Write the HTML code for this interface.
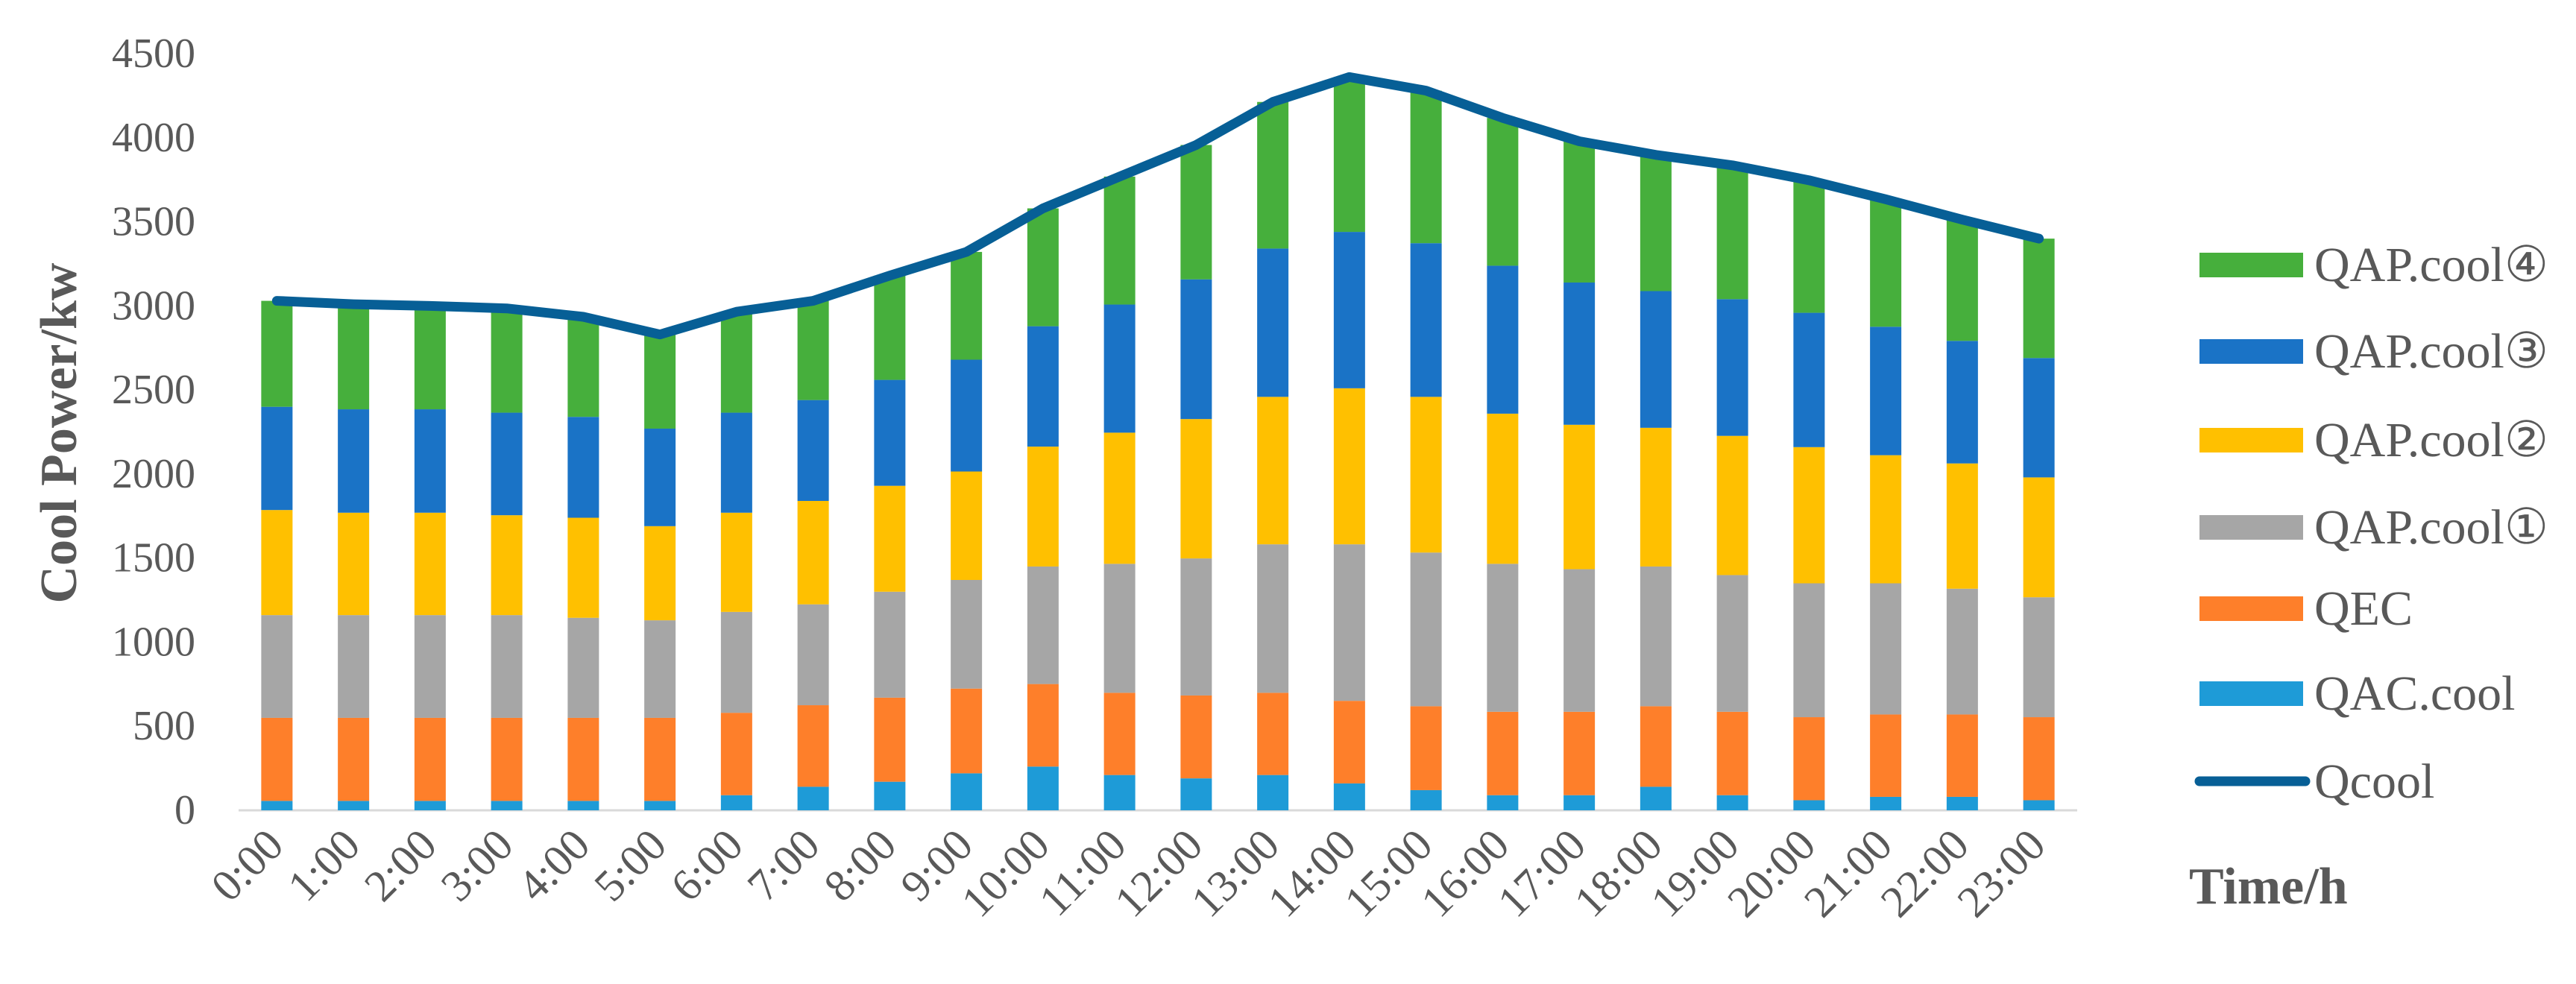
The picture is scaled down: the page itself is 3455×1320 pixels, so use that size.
<!DOCTYPE html>
<html><head><meta charset="utf-8"><style>
html,body{margin:0;padding:0;background:#fff;}
svg{display:block;}
text{font-family:"Liberation Serif","DejaVu Serif",serif;}
</style></head><body>
<svg id="chart" width="3455" height="1320" viewBox="0 0 3455 1320" xmlns="http://www.w3.org/2000/svg">
<rect width="3455" height="1320" fill="#fff"/>
<g id="grid"></g><g id="bars"></g><g id="line"></g><g id="labels"></g>
<text transform="translate(102,581) rotate(-90)" text-anchor="middle" font-size="70" font-weight="bold" fill="#595959">Cool Power/kw</text>
<text x="2936" y="1212" font-size="70" font-weight="bold" fill="#595959">Time/h</text>
<g id="legend"></g>
</svg>
<script>
const categories=["0:00","1:00","2:00","3:00","4:00","5:00","6:00","7:00","8:00","9:00","10:00","11:00","12:00","13:00","14:00","15:00","16:00","17:00","18:00","19:00","20:00","21:00","22:00","23:00"];
const qacCool=[56,56,56,56,56,56,90,140,170,220,260,210,190,210,160,120,90,90,140,90,60,80,80,60];
const qec=[494,494,494,494,494,494,490,485,500,504,491,489,493,489,491,499,496,496,479,496,494,490,490,494];
const qap1=[611,611,611,611,595,580,600,600,630,646,699,767,815,883,931,914,880,848,831,813,796,780,748,713];
const qap2=[625,609,609,594,595,560,590,615,630,645,713,780,829,877,928,926,893,859,825,828,810,762,745,713];
const qap3=[614,615,615,610,600,580,595,600,630,665,716,762,831,882,930,914,880,846,813,813,799,764,729,710];
const qap4=[630,625,615,620,595,560,600,590,620,641,701,761,799,872,921,907,879,840,810,796,788,758,721,710];
const qcool=[3030,3010,3000,2985,2935,2830,2965,3030,3180,3321,3580,3769,3957,4213,4361,4280,4118,3979,3898,3836,3747,3634,3513,3400];
const yTicks=[0,500,1000,1500,2000,2500,3000,3500,4000,4500];
const seriesNames=["QAC.cool","QEC","QAP.cool①","QAP.cool②","QAP.cool③","QAP.cool④"];
const NS="http://www.w3.org/2000/svg";
const X0=320,X1=2786,Y0=1087,YTOP=72,YMAX=4500;
const band=(X1-X0)/categories.length;
const xC=i=>X0+band*(i+0.5);
const yV=v=>Y0-v*(Y0-YTOP)/YMAX;
const colors=["#1e9bd7","#fe7f2a","#a6a6a6","#ffc000","#1a73c6","#46af3c"];
const series=[qacCool,qec,qap1,qap2,qap3,qap4];
function mk(tag,attrs,parent){const e=document.createElementNS(NS,tag);for(const k in attrs)e.setAttribute(k,attrs[k]);parent.appendChild(e);return e;}
const grid=document.getElementById('grid');
const ax=mk('line',{x1:X0,x2:X1,y1:Y0,y2:Y0,stroke:'#d9d9d9','stroke-width':3},grid);


const labels=document.getElementById('labels');
yTicks.forEach(t=>{const e=mk('text',{x:262,y:yV(t)+18,'text-anchor':'end','font-size':56,fill:'#595959'},labels);e.textContent=t;

});
const bars=document.getElementById('bars');
const BW=42;
categories.forEach((c,i)=>{let cum=0;
series.forEach((s,k)=>{const y1=yV(cum),y2=yV(cum+s[i]);cum+=s[i];
const r=mk('rect',{x:xC(i)-BW/2,y:y2,width:BW,height:y1-y2,fill:colors[k]},bars);

});
const t=mk('text',{'text-anchor':'end','font-size':60,fill:'#595959',transform:`translate(${xC(i)+12},${Y0+50}) rotate(-45)`},labels);t.textContent=c;

});
const pts=qcool.map((v,i)=>xC(i)+','+yV(v)).join(' ');
const pl=mk('polyline',{points:pts,fill:'none',stroke:'#075f96','stroke-width':13,'stroke-linejoin':'round','stroke-linecap':'round'},document.getElementById('line'));


const leg=document.getElementById('legend');
const legRows=[[5,355],[4,471],[3,590],[2,707],[1,816],[0,930]];
legRows.forEach(([k,y])=>{const r=mk('rect',{x:2950,y:y-16,width:139,height:33,fill:colors[k]},leg);


const t=mk('text',{x:3104,y:y+22,'font-size':66,fill:'#595959'},leg);t.textContent=seriesNames[k];

});
const ll=mk('line',{x1:2950,x2:3092,y1:1048,y2:1048,stroke:'#075f96','stroke-width':13,'stroke-linecap':'round'},leg);


const lt=mk('text',{x:3104,y:1070,'font-size':66,fill:'#595959'},leg);lt.textContent="Qcool";


</script>
</body></html>
